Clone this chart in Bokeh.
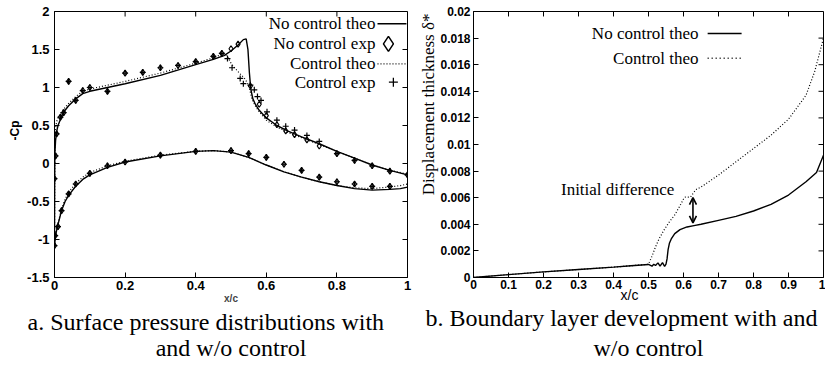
from bokeh.plotting import figure
from bokeh.layouts import row
from bokeh.models import Range1d, Arrow, OpenHead, FixedTicker, Title
from bokeh.embed import file_html
from bokeh.resources import INLINE
from bokeh.core.properties import value

# ---------------- Left chart data: -Cp vs x/c ----------------
nc_theo_up_x = [0.0, 0.0005, 0.001, 0.003, 0.006, 0.01, 0.02, 0.03, 0.04, 0.06, 0.08, 0.1, 0.15, 0.2, 0.3, 0.4, 0.45,
                0.48, 0.5, 0.52, 0.535, 0.543, 0.548, 0.552, 0.556, 0.562, 0.57, 0.58, 0.6, 0.63, 0.66, 0.7, 0.75,
                0.8, 0.85, 0.9, 0.95, 1.0]
nc_theo_up_y = [-1.1, -0.3, 0.12, 0.3, 0.42, 0.5, 0.62, 0.7, 0.76, 0.85, 0.92, 0.95, 1.0, 1.05, 1.16, 1.3, 1.37,
                1.42, 1.48, 1.56, 1.63, 1.64, 1.5, 1.2, 0.98, 0.85, 0.77, 0.7, 0.6, 0.5, 0.43, 0.35, 0.26,
                0.16, 0.07, -0.02, -0.09, -0.15]
c_theo_up_x = [0.0, 0.0005, 0.001, 0.003, 0.006, 0.01, 0.02, 0.03, 0.04, 0.06, 0.08, 0.1, 0.15, 0.2, 0.3, 0.4, 0.45,
               0.47, 0.48, 0.49, 0.5, 0.51, 0.52, 0.53, 0.54, 0.55, 0.56, 0.57, 0.58, 0.6, 0.63, 0.66, 0.7, 0.75,
               0.8, 0.85, 0.9, 0.95, 1.0]
c_theo_up_y = [-1.1, -0.2, 0.3, 0.45, 0.55, 0.6, 0.68, 0.74, 0.79, 0.88, 0.95, 0.98, 1.03, 1.08, 1.19, 1.32, 1.39,
               1.43, 1.45, 1.41, 1.32, 1.26, 1.21, 1.16, 1.11, 1.03, 0.84, 0.75, 0.68, 0.57, 0.48, 0.41, 0.34, 0.25,
               0.16, 0.07, -0.02, -0.09, -0.14]
nc_theo_lo_x = [0.0, 0.001, 0.003, 0.006, 0.01, 0.02, 0.03, 0.04, 0.06, 0.08, 0.1, 0.15, 0.2, 0.3, 0.4, 0.45, 0.5,
                0.55, 0.6, 0.65, 0.7, 0.75, 0.8, 0.85, 0.9, 0.95, 0.98, 1.0]
nc_theo_lo_y = [-1.1, -1.02, -0.95, -0.88, -0.8, -0.62, -0.5, -0.42, -0.3, -0.21, -0.15, -0.05, 0.02, 0.1, 0.16,
                0.17, 0.15, 0.08, -0.02, -0.11, -0.18, -0.24, -0.29, -0.33, -0.35, -0.34, -0.33, -0.31]
c_theo_lo_x = nc_theo_lo_x
c_theo_lo_y = [-1.1, -1.0, -0.93, -0.86, -0.78, -0.6, -0.47, -0.38, -0.26, -0.18, -0.12, -0.03, 0.03, 0.11, 0.16,
               0.17, 0.15, 0.08, -0.02, -0.11, -0.18, -0.24, -0.29, -0.32, -0.33, -0.31, -0.29, -0.27]

nc_exp_x = [0.003, 0.006, 0.017, 0.026, 0.04, 0.06, 0.08, 0.1, 0.15, 0.2, 0.25, 0.3, 0.35, 0.4, 0.45, 0.474,
            0.5, 0.52, 0.555, 0.58, 0.6, 0.63, 0.655, 0.68, 0.715, 0.75, 0.8, 0.85, 0.9, 0.95, 1.0,
            0.0, 0.0, 0.002, 0.01, 0.02, 0.04, 0.06, 0.1, 0.15, 0.2, 0.3, 0.4, 0.5, 0.55, 0.6, 0.65, 0.7,
            0.75, 0.8, 0.85, 0.9, 0.95]
nc_exp_y = [0.1, 0.39, 0.61, 0.67, 1.08, 0.83, 0.96, 1.0, 0.95, 1.19, 1.2, 1.26, 1.29, 1.34, 1.41, 1.45,
            1.51, 1.57, 1.02, 0.78, 0.63, 0.51, 0.43, 0.38, 0.31, 0.23, 0.13, 0.04, -0.03, -0.1, -0.15,
            -0.2, -1.08, -0.95, -0.83, -0.62, -0.4, -0.27, -0.13, -0.03, 0.02, 0.11, 0.16, 0.17, 0.13, 0.08,
            -0.01, -0.09, -0.18, -0.24, -0.27, -0.3, -0.3]
c_exp_x = [0.003, 0.006, 0.017, 0.026, 0.04, 0.06, 0.08, 0.1, 0.15, 0.2, 0.25, 0.3, 0.35, 0.4, 0.45, 0.474,
           0.49, 0.503, 0.526, 0.535, 0.555, 0.566, 0.575, 0.585, 0.602, 0.63, 0.655, 0.68, 0.715, 0.75,
           0.8, 0.85, 0.9, 0.95, 1.0,
           0.0, 0.0, 0.002, 0.01, 0.02, 0.04, 0.06, 0.1, 0.15, 0.2, 0.3, 0.4, 0.5, 0.55, 0.6, 0.65, 0.7,
           0.75, 0.8, 0.85, 0.9, 0.95]
c_exp_y = [0.1, 0.39, 0.61, 0.67, 1.08, 0.83, 0.96, 1.0, 0.95, 1.19, 1.2, 1.26, 1.29, 1.34, 1.41, 1.45,
           1.38, 1.26, 1.12, 1.05, 1.03, 0.97, 0.88, 0.83, 0.68, 0.57, 0.49, 0.44, 0.37, 0.29,
           0.13, 0.04, -0.03, -0.1, -0.15,
           -0.2, -1.08, -0.95, -0.83, -0.62, -0.4, -0.27, -0.13, -0.03, 0.02, 0.11, 0.16, 0.17, 0.13, 0.08,
           -0.01, -0.09, -0.18, -0.24, -0.27, -0.3, -0.3]

left_xticks = [0, 0.2, 0.4, 0.6, 0.8, 1]
left_xtick_labels = ["0", "0.2", "0.4", "0.6", "0.8", "1"]
left_yticks = [-1.5, -1, -0.5, 0, 0.5, 1, 1.5, 2]
left_ytick_labels = ["-1.5", "-1", "-0.5", "0", "0.5", "1", "1.5", "2"]
left_legend = ["No control theo", "No control exp", "Control theo", "Control exp"]

# ---------------- Right chart data: displacement thickness ----------------
nc_ds_x = [0.0, 0.1, 0.2, 0.3, 0.4, 0.45, 0.5, 0.51, 0.515, 0.52, 0.527, 0.533, 0.54, 0.546, 0.55, 0.553, 0.556,
           0.56, 0.565, 0.575, 0.59, 0.61, 0.63, 0.65, 0.7, 0.75, 0.8, 0.85, 0.9, 0.95, 0.98, 1.0]
nc_ds_y = [0.0, 0.00022, 0.00042, 0.0006, 0.00078, 0.00088, 0.00098, 0.00085, 0.001, 0.0009, 0.0011, 0.00085,
           0.00112, 0.00083, 0.001, 0.0014, 0.0021, 0.0026, 0.0029, 0.0033, 0.0036, 0.0038, 0.0039, 0.004,
           0.0043, 0.0046, 0.005, 0.0055, 0.0062, 0.0072, 0.0079, 0.0092]
c_ds_x = [0.0, 0.1, 0.2, 0.3, 0.4, 0.45, 0.5, 0.51, 0.52, 0.53, 0.545, 0.56, 0.575, 0.59, 0.6, 0.605, 0.62, 0.635,
          0.65, 0.7, 0.75, 0.8, 0.85, 0.9, 0.95, 0.975, 1.0]
c_ds_y = [0.0, 0.00022, 0.00042, 0.0006, 0.00078, 0.00088, 0.001, 0.0016, 0.0023, 0.0029, 0.0036, 0.0042, 0.0047,
          0.0054, 0.0059, 0.00605, 0.00605, 0.0066, 0.0068, 0.0077, 0.0087, 0.0097, 0.0107, 0.0119, 0.0137,
          0.0155, 0.018]
diff_x = 0.627
diff_y0 = 0.0041
diff_y1 = 0.006

right_xticks = [0, 0.1, 0.2, 0.3, 0.4, 0.5, 0.6, 0.7, 0.8, 0.9, 1]
right_xtick_labels = ["0", "0.1", "0.2", "0.3", "0.4", "0.5", "0.6", "0.7", "0.8", "0.9", "1"]
right_yticks = [0, 0.002, 0.004, 0.006, 0.008, 0.01, 0.012, 0.014, 0.016, 0.018, 0.02]
right_ytick_labels = ["0", "0.002", "0.004", "0.006", "0.008", "0.01", "0.012", "0.014", "0.016", "0.018", "0.02"]
right_legend = ["No control theo", "Control theo"]

captions_a = ["a. Surface pressure distributions with", "and w/o control"]
captions_b = ["b. Boundary layer development with and", "w/o control"]

SERIF = "Liberation Serif"
SANS = "Liberation Sans"


def style_axis(ax, ticks, labels, size, standoff):
    ax.ticker = FixedTicker(ticks=ticks)
    ax.major_label_overrides = {float(t): s for t, s in zip(ticks, labels)}
    ax.major_tick_in = 5
    ax.major_tick_out = 0
    ax.minor_tick_line_color = None
    ax.axis_line_color = "black"
    ax.major_tick_line_color = "black"
    ax.major_label_text_font = SANS
    ax.major_label_text_font_style = "bold"
    ax.major_label_text_font_size = size
    ax.major_label_text_color = "black"
    ax.major_label_standoff = standoff


def mirror_ticks(p, xticks, yticks, xr, yr, w_px, h_px):
    # gnuplot-style inward ticks on the top and right borders (5 px long)
    dx = 5.0 * (xr[1] - xr[0]) / w_px
    dy = 5.0 * (yr[1] - yr[0]) / h_px
    p.segment(x0=xticks, y0=[yr[1]] * len(xticks), x1=xticks, y1=[yr[1] - dy] * len(xticks),
              line_color="black", line_width=1)
    p.segment(x0=[xr[1]] * len(yticks), y0=yticks, x1=[xr[1] - dx] * len(yticks), y1=yticks,
              line_color="black", line_width=1)


def side_title(p, side, text, align, offset, standoff, font, size, style="normal", valign="bottom"):
    t = Title(text=text, align=align, offset=offset, standoff=standoff, text_font=font,
              text_font_size=size, text_font_style=style, text_color="black", vertical_align=valign)
    p.add_layout(t, side)


# ---------------- Left figure ----------------
lxr, lyr = (0, 1), (-1.5, 2)
p1 = figure(width=415, height=372, x_range=Range1d(*lxr), y_range=Range1d(*lyr),
            output_backend="svg", toolbar_location=None,
            min_border_left=54, min_border_right=8, min_border_top=11, min_border_bottom=95)
p1.grid.visible = False
p1.outline_line_color = "black"
style_axis(p1.xaxis[0], left_xticks, left_xtick_labels, "13px", 3)
style_axis(p1.yaxis[0], left_yticks, left_ytick_labels, "13px", 5)
p1.xaxis[0].axis_label = "x/c"
p1.xaxis[0].axis_label_text_font = SANS
p1.xaxis[0].axis_label_text_font_style = "bold"
p1.xaxis[0].axis_label_text_font_size = "10px"
p1.xaxis[0].axis_label_standoff = 0
mirror_ticks(p1, left_xticks, left_yticks, lxr, lyr, 353, 266)

p1.line(nc_theo_up_x, nc_theo_up_y, line_color="black", line_width=1.4)
p1.line(nc_theo_lo_x, nc_theo_lo_y, line_color="black", line_width=1.4)
p1.line(c_theo_up_x, c_theo_up_y, line_color="black", line_width=1.2, line_dash="1 2")
p1.line(c_theo_lo_x, c_theo_lo_y, line_color="black", line_width=1.2, line_dash="1 2")
p1.scatter(nc_exp_x, nc_exp_y, marker="diamond", size=6, fill_color=None, line_color="black", line_width=1.2)
p1.scatter(c_exp_x, c_exp_y, marker="cross", size=6, line_color="black", line_width=1.2)

# legend (gnuplot style: text right-aligned, sample to the right)
leg_y = [1.838, 1.575, 1.312, 1.07]
p1.text(x=[0.909] * 4, y=leg_y, text=left_legend, text_align="right", text_baseline="middle",
        text_font=value(SERIF), text_font_size="17px", text_color="black")
p1.segment(x0=[0.915], y0=[leg_y[0]], x1=[0.997], y1=[leg_y[0]], line_color="black", line_width=1.4)
p1.segment(x0=[0.915], y0=[leg_y[2]], x1=[0.997], y1=[leg_y[2]], line_color="black", line_width=1.2,
           line_dash="1 2")
p1.scatter([0.946], [leg_y[1]], marker="diamond", size=15, fill_color=None, line_color="black", line_width=1.5)
p1.scatter([0.96], [leg_y[3]], marker="cross", size=9, line_color="black", line_width=1.3)

side_title(p1, "left", "-Cp", "right", 109, 6, SANS, "12px", "bold")
side_title(p1, "below", captions_a[0], "left", -27, 0, SERIF, "24px")
side_title(p1, "below", captions_a[1], "center", 0, -4, SERIF, "24px")

# ---------------- Right figure ----------------
rxr, ryr = (0, 1), (0, 0.02)
p2 = figure(width=410, height=372, x_range=Range1d(*rxr), y_range=Range1d(*ryr),
            output_backend="svg", toolbar_location=None,
            min_border_left=58, min_border_right=2, min_border_top=11, min_border_bottom=94)
p2.grid.visible = False
p2.outline_line_color = "black"
style_axis(p2.xaxis[0], right_xticks, right_xtick_labels, "12px", 2)
style_axis(p2.yaxis[0], right_yticks, right_ytick_labels, "12px", 3)
mirror_ticks(p2, right_xticks, right_yticks, rxr, ryr, 350, 267)

p2.line(nc_ds_x, nc_ds_y, line_color="black", line_width=1.4)
p2.line(c_ds_x, c_ds_y, line_color="black", line_width=1.2, line_dash="1 2")
p2.add_layout(Arrow(x_start=diff_x, y_start=diff_y0, x_end=diff_x, y_end=diff_y1, line_width=1.6,
                    line_color="black",
                    start=OpenHead(size=7, line_width=1.6, line_color="black"),
                    end=OpenHead(size=7, line_width=1.6, line_color="black")))
p2.text(x=[0.574], y=[0.0066], text=["Initial difference"], text_align="right", text_baseline="middle",
        text_font=value(SERIF), text_font_size="17px", text_color="black")

rleg_y = [0.01835, 0.01648]
p2.text(x=[0.643] * 2, y=rleg_y, text=right_legend, text_align="right", text_baseline="middle",
        text_font=value(SERIF), text_font_size="17px", text_color="black")
p2.segment(x0=[0.669], y0=[rleg_y[0]], x1=[0.766], y1=[rleg_y[0]], line_color="black", line_width=1.4)
p2.segment(x0=[0.669], y0=[rleg_y[1]], x1=[0.766], y1=[rleg_y[1]], line_color="black", line_width=1.4,
           line_dash="1 3")

side_title(p2, "left", "Displacement thickness δ*", "right", 2, 0, SERIF, "17px")
side_title(p2, "below", "x/c", "left", 147, -10, SANS, "14px", "normal", "top")
side_title(p2, "below", captions_b[0], "left", -48, 7, SERIF, "24px")
side_title(p2, "below", captions_b[1], "center", 0, -4, SERIF, "24px")

layout = row(p1, p2)
with open("out.html", "w") as f:
    f.write(file_html(layout, INLINE))
